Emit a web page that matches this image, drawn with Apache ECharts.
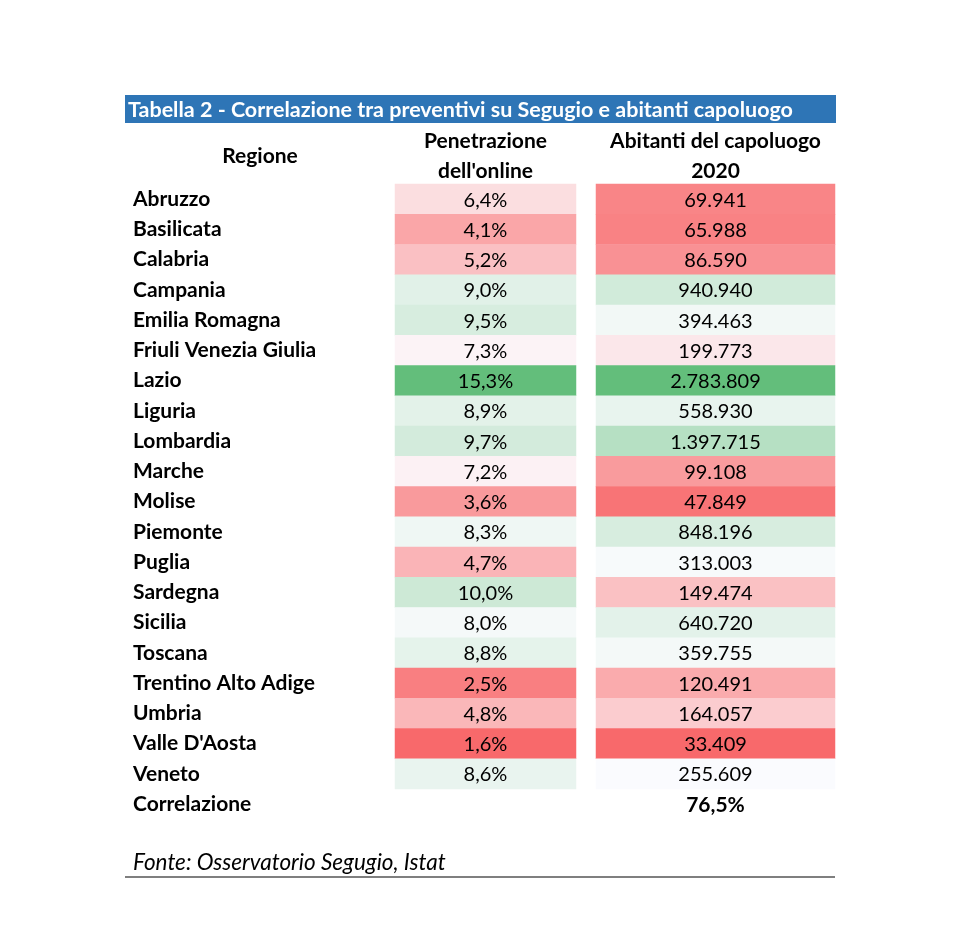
<!DOCTYPE html>
<html><head><meta charset="utf-8">
<script src="https://cdn.jsdelivr.net/npm/echarts@6/dist/echarts.min.js"></script>
<style>html,body{margin:0;padding:0;background:#fff}#c{width:960px;height:931px}</style>
</head><body><div id="c"></div>
<script>
const titleText = 'Tabella 2 - Correlazione tra preventivi su Segugio e abitanti capoluogo';
const headerRegione = 'Regione';
const headerPenetrazione = "Penetrazione\ndell'online";
const headerAbitanti = 'Abitanti del capoluogo\n2020';
const regions = ['Abruzzo','Basilicata','Calabria','Campania','Emilia Romagna','Friuli Venezia Giulia','Lazio','Liguria','Lombardia','Marche','Molise','Piemonte','Puglia','Sardegna','Sicilia','Toscana','Trentino Alto Adige','Umbria',"Valle D'Aosta",'Veneto'];
const penetrazione = [6.4,4.1,5.2,9.0,9.5,7.3,15.3,8.9,9.7,7.2,3.6,8.3,4.7,10.0,8.0,8.8,2.5,4.8,1.6,8.6];
const abitanti = [69941,65988,86590,940940,394463,199773,2783809,558930,1397715,99108,47849,848196,313003,149474,640720,359755,120491,164057,33409,255609];
const correlazioneLabel = 'Correlazione';
const correlazione = 76.5;
const fonte = 'Fonte: Osservatorio Segugio, Istat';

const FONT = 'Lato';
const BOLD = 21, REG = 20;
const LOW = [248,105,107], MID = [252,252,255], HIGH = [99,190,123];
function median(a){const s=a.slice().sort((x,y)=>x-y);const n=s.length;return n%2?s[(n-1)/2]:(s[n/2-1]+s[n/2])/2;}
function scaleColor(arr){
  const mn=Math.min(...arr), mx=Math.max(...arr), md=median(arr);
  return arr.map(v=>{
    let a,b,t;
    if(v<=md){a=LOW;b=MID;t=(v-mn)/(md-mn);} else {a=MID;b=HIGH;t=(v-md)/(mx-md);}
    const c=a.map((x,i)=>Math.round(x+(b[i]-x)*t));
    return 'rgb('+c.join(',')+')';
  });
}
function fmtPct(v){return v.toFixed(1).replace('.',',')+'%';}
function fmtInt(v){return String(Math.round(v)).replace(/\B(?=(\d{3})+(?!\d))/g,'.');}

const yCats = regions.concat([correlazioneLabel]);
const c1 = scaleColor(penetrazione), c2 = scaleColor(abitanti);
const data1 = penetrazione.map((v,i)=>({value:[0,i,v],itemStyle:{color:c1[i]}}));
const data2 = abitanti.map((v,i)=>({value:[0,i,v],itemStyle:{color:c2[i]}}));
data2.push({value:[0,regions.length,correlazione],itemStyle:{color:'rgba(0,0,0,0)'},label:{fontWeight:'bold',fontSize:BOLD,formatter:fmtPct(correlazione)}});

const rowH = 30.25;
const gridTop = 184, gridH = rowH*yCats.length;
const chart = echarts.init(document.getElementById('c'));
const baseLabel = {show:true,color:'#000',fontFamily:FONT,fontSize:REG,offset:[0,1]};
chart.setOption({
  animation:false,
  textStyle:{fontFamily:FONT},
  grid:[{left:395,top:gridTop,width:181,height:gridH},{left:596,top:gridTop,width:239,height:gridH}],
  xAxis:[0,1].map(i=>({gridIndex:i,type:'category',position:'top',data:[i===0?headerPenetrazione:headerAbitanti],
    axisLine:{show:false},axisTick:{show:false},splitLine:{show:false},
    axisLabel:{margin:-2,color:'#000',fontFamily:FONT,fontWeight:'bold',fontSize:BOLD,lineHeight:30}})),
  yAxis:[0,1].map(i=>({gridIndex:i,type:'category',inverse:true,data:yCats,
    axisLine:{show:false},axisTick:{show:false},splitLine:{show:false},
    axisLabel:{show:i===0,align:'left',margin:262,color:'#000',fontFamily:FONT,fontWeight:'bold',fontSize:BOLD,lineHeight:24,padding:[0,0,0,0]}})),
  series:[
    {type:'heatmap',xAxisIndex:0,yAxisIndex:0,data:data1,emphasis:{disabled:true},
      label:Object.assign({},baseLabel,{formatter:p=>fmtPct(p.value[2])})},
    {type:'heatmap',xAxisIndex:1,yAxisIndex:1,data:data2,emphasis:{disabled:true},
      label:Object.assign({},baseLabel,{formatter:p=>fmtInt(p.value[2])})}
  ],
  graphic:[
    {type:'rect',shape:{x:125,y:95,width:711,height:28},style:{fill:'#2E75B6'}},
    {type:'text',x:128,y:110,style:{text:titleText,fill:'#fff',font:'bold 21.5px '+FONT,textVerticalAlign:'middle'}},
    {type:'text',x:260,y:156,style:{text:headerRegione,fill:'#000',font:'bold '+BOLD+'px '+FONT,textAlign:'center',textVerticalAlign:'middle'}},
    {type:'text',x:133,y:863,style:{text:fonte,fill:'#000',font:'italic 22.5px '+FONT,textVerticalAlign:'middle'}},
    {type:'line',shape:{x1:125,y1:877,x2:835,y2:877},style:{stroke:'#555',lineWidth:1.5}}
  ]
});
</script></body></html>
